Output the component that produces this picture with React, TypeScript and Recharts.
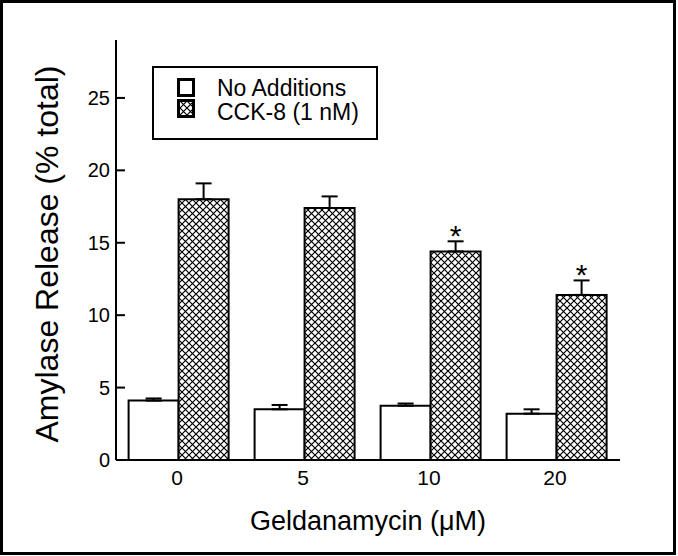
import React from 'react';
import { BarChart, Bar, XAxis, YAxis, ErrorBar, LabelList } from 'recharts';

const doses = ['0', '5', '10', '20'];
const noAdditions = [4.1, 3.5, 3.75, 3.2];
const noAdditionsErr = [0.15, 0.3, 0.15, 0.3];
const cck8 = [18.0, 17.4, 14.4, 11.4];
const cck8Err = [1.1, 0.8, 0.7, 1.0];
const significant = [false, false, true, true];
const yTicks = [0, 5, 10, 15, 20, 25];
const seriesNames = ['No Additions', 'CCK-8 (1 nM)'];

const data = doses.map((d, i) => ({
  dose: d,
  none: noAdditions[i],
  noneErr: [0, noAdditionsErr[i]],
  cck: cck8[i],
  cckErr: [0, cck8Err[i]],
  star: significant[i] ? '*' : '',
}));

const FONT = '"Liberation Sans", Arial, Helvetica, sans-serif';

const HatchPattern = ({ id }: { id: string }) => (
  <pattern id={id} width={7} height={7} patternUnits="userSpaceOnUse">
    <rect x={0} y={0} width={7} height={7} fill="#fff" />
    <path d="M0,0 L7,7 M7,0 L0,7" stroke="#000" strokeWidth={1.2} />
  </pattern>
);

const YTick = (props: any) => {
  const { x, y, payload } = props;
  return (
    <g>
      <line x1={x} y1={y} x2={x + 9} y2={y} stroke="#000" strokeWidth={2} />
      <text x={x - 6} y={y + 7} textAnchor="end" fontSize={20} fontFamily={FONT} fill="#000">
        {payload.value}
      </text>
    </g>
  );
};

const XTick = (props: any) => {
  const { x, y, payload } = props;
  return (
    <text x={x - 2} y={y + 25} textAnchor="middle" fontSize={21} fontFamily={FONT} fill="#000">
      {payload.value}
    </text>
  );
};

const StarLabel = (props: any) => {
  const { x, y, width, height, index, value } = props;
  if (!value) return null;
  const scale = height / cck8[index];
  const errTop = y - cck8Err[index] * scale;
  return (
    <text x={x + width / 2} y={errTop + 5} textAnchor="middle" fontSize={30} fontFamily={FONT} fill="#000">
      {value}
    </text>
  );
};

const LegendBox = () => (
  <g transform="translate(152,66)">
    <rect x={1} y={1} width={224} height={72} fill="#fff" stroke="#000" strokeWidth={2} />
    <rect x={26.5} y={13.5} width={15} height={16} fill="#fff" stroke="#000" strokeWidth={3} />
    <rect x={26.5} y={34.5} width={15} height={16} fill="url(#xhatch)" stroke="#000" strokeWidth={3} />
    <text x={65} y={30} fontSize={23} fontFamily={FONT} fill="#000">{seriesNames[0]}</text>
    <text x={65} y={54} fontSize={23} fontFamily={FONT} fill="#000">{seriesNames[1]}</text>
  </g>
);

export default function App() {
  return (
    <div style={{ position: 'absolute', left: 0, top: 0, width: 678, height: 556, background: '#fff' }}>
      <BarChart
        width={678}
        height={556}
        data={data}
        margin={{ top: 40, right: 58, bottom: 0, left: 0 }}
        barCategoryGap="10%"
        barGap={0}
      >
        <defs>
          <HatchPattern id="xhatch" />
        </defs>
        <XAxis
          dataKey="dose"
          height={96}
          tickLine={false}
          tickSize={0}
          tickMargin={0}
          axisLine={{ stroke: '#000', strokeWidth: 2 }}
          tick={<XTick />}
          label={(p: any) => {
            const vb = p.viewBox;
            return (
              <text x={vb.x + vb.width / 2} y={vb.y + 70} textAnchor="middle" fontSize={27} fontFamily={FONT} fill="#000">
                Geldanamycin (μM)
              </text>
            );
          }}
        />
        <XAxis
          xAxisId="top"
          dataKey="dose"
          orientation="top"
          height={0}
          tick={false}
          tickLine={false}
          axisLine={{ stroke: '#000', strokeWidth: 2 }}
        />
        <YAxis
          width={116}
          domain={[0, 29]}
          ticks={yTicks}
          tickLine={false}
          tickSize={0}
          tickMargin={0}
          axisLine={{ stroke: '#000', strokeWidth: 2 }}
          tick={<YTick />}
          label={(p: any) => {
            const vb = p.viewBox;
            const cx = 58;
            const cy = vb.y + vb.height / 2 + 4;
            return (
              <text x={cx} y={cy} transform={`rotate(-90, ${cx}, ${cy})`} textAnchor="middle" fontSize={32} fontFamily={FONT} fill="#000">
                Amylase Release (% total)
              </text>
            );
          }}
        />
        <YAxis
          yAxisId="right"
          orientation="right"
          width={0}
          domain={[0, 29]}
          tick={false}
          tickLine={false}
          axisLine={{ stroke: '#000', strokeWidth: 2 }}
        />
        <Bar dataKey="none" name={seriesNames[0]} fill="#fff" stroke="#000" strokeWidth={2} isAnimationActive={false}>
          <ErrorBar dataKey="noneErr" width={8} stroke="#000" strokeWidth={2} direction="y" />
        </Bar>
        <Bar dataKey="cck" name={seriesNames[1]} fill="url(#xhatch)" stroke="#000" strokeWidth={2} isAnimationActive={false}>
          <ErrorBar dataKey="cckErr" width={8} stroke="#000" strokeWidth={2} direction="y" />
          <LabelList dataKey="star" content={<StarLabel />} />
        </Bar>
        <LegendBox />
      </BarChart>
      <div
        style={{
          position: 'absolute',
          left: 0,
          top: 0,
          width: 676,
          height: 555,
          border: '3px solid #000',
          boxSizing: 'border-box',
          pointerEvents: 'none',
        }}
      />
    </div>
  );
}
